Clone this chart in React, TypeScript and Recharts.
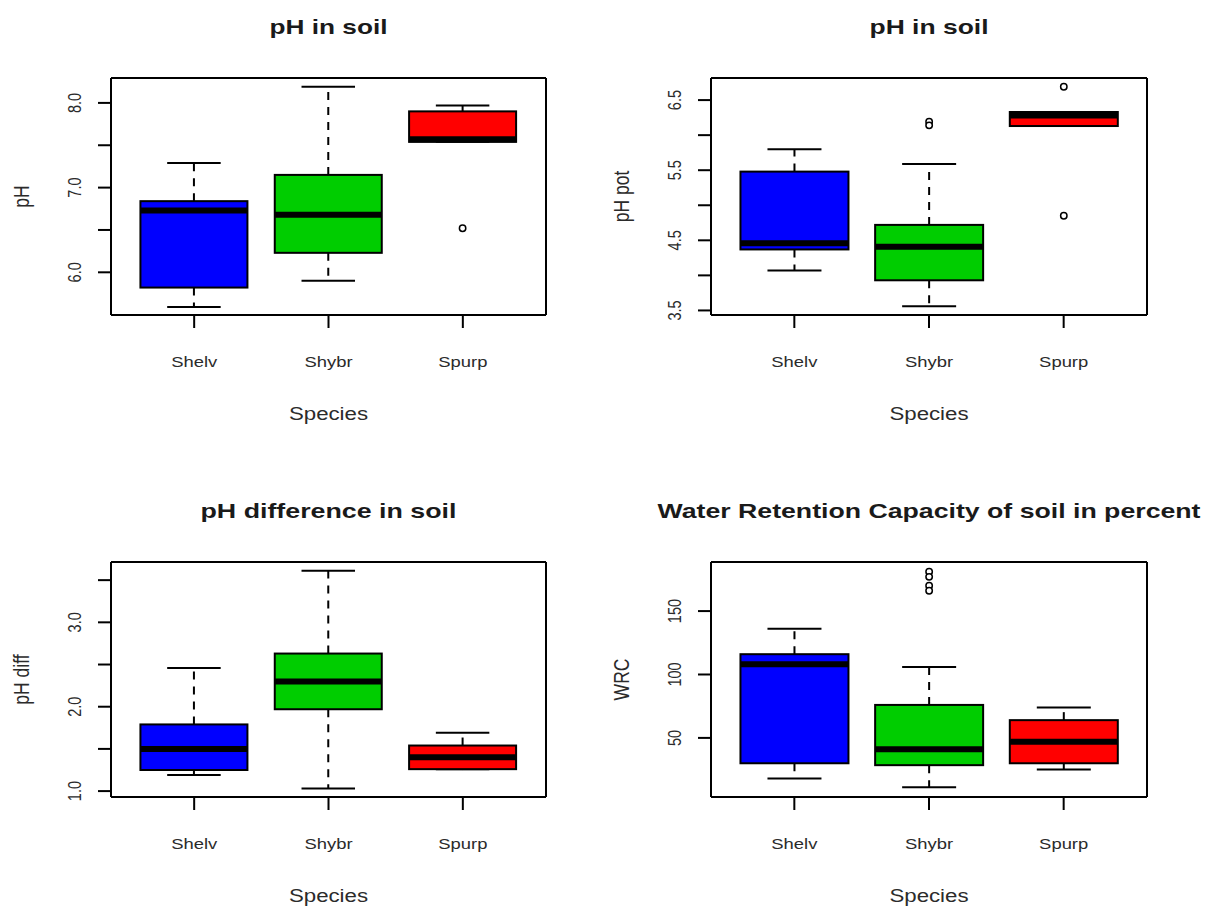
import { ComposedChart, Bar, XAxis, YAxis, Label } from 'recharts'

const FONT = '"Liberation Sans", Arial, sans-serif'
const INK = '#000000'
const TEXT = '#2b2b2b'
// the source bitmap was widened, so plain text gets the same sideways stretch
const SX = 1.27

const species = ['Shelv', 'Shybr', 'Spurp']
const boxColors = ['#0000FF', '#00CD00', '#FF0000']

// each row: [lower whisker, Q1, median, Q3, upper whisker]
const phStats = [
  [5.59, 5.82, 6.73, 6.84, 7.29],
  [5.9, 6.23, 6.68, 7.15, 8.19],
  [7.54, 7.54, 7.57, 7.9, 7.97],
]
const phOutliers = [[], [], [6.52]]
const phTicks = [6, 6.5, 7, 7.5, 8]
const phTickLabels = [6, 7, 8]

const phPotStats = [
  [4.07, 4.37, 4.46, 5.48, 5.8],
  [3.56, 3.93, 4.41, 4.72, 5.59],
  [6.13, 6.13, 6.28, 6.33, 6.33],
]
const phPotOutliers = [[], [6.19, 6.14], [6.69, 4.85]]
const phPotTicks = [3.5, 4, 4.5, 5, 5.5, 6, 6.5]
const phPotTickLabels = [3.5, 4.5, 5.5, 6.5]

const phDiffStats = [
  [1.19, 1.25, 1.5, 1.79, 2.46],
  [1.03, 1.97, 2.3, 2.63, 3.61],
  [1.26, 1.26, 1.4, 1.54, 1.69],
]
const phDiffOutliers = [[], [], []]
const phDiffTicks = [1, 1.5, 2, 2.5, 3, 3.5]
const phDiffTickLabels = [1, 2, 3]

const wrcStats = [
  [18, 30, 108, 116, 136],
  [11, 28.5, 41, 76, 106],
  [25, 30, 47, 64, 74],
]
const wrcOutliers = [[], [181, 177, 170, 166], []]
const wrcTicks = [50, 100, 150]
const wrcTickLabels = [50, 100, 150]

function BoxShape(props: any) {
  const { x, y, width, height, payload } = props
  const { lo, q1, med, q3, hi, out, color } = payload
  // map a value onto the pixel span the bar got from the y scale (lo..hi)
  const py = (v: number) => y + ((hi - v) / (hi - lo)) * height
  const cx = x + width / 2
  const cap = width / 4
  return (
    <g>
      <line x1={cx} x2={cx} y1={py(q3)} y2={py(hi)} stroke={INK} strokeWidth={2} strokeDasharray="8 7" />
      <line x1={cx} x2={cx} y1={py(q1)} y2={py(lo)} stroke={INK} strokeWidth={2} strokeDasharray="8 7" />
      <line x1={cx - cap} x2={cx + cap} y1={py(hi)} y2={py(hi)} stroke={INK} strokeWidth={2} />
      <line x1={cx - cap} x2={cx + cap} y1={py(lo)} y2={py(lo)} stroke={INK} strokeWidth={2} />
      <rect x={x} y={py(q3)} width={width} height={py(q1) - py(q3)} fill={color} stroke={INK} strokeWidth={2} />
      <line x1={x} x2={x + width} y1={py(med)} y2={py(med)} stroke={INK} strokeWidth={6} />
      {out.map((v: number, i: number) => (
        <circle key={i} cx={cx} cy={py(v)} r={3.2} fill="#fff" stroke={INK} strokeWidth={1.5} />
      ))}
    </g>
  )
}

function CategoryTick(props: any) {
  const { x, y, payload } = props
  return (
    <text
      transform={`translate(${x}, ${y + 39}) scale(${SX}, 1)`}
      textAnchor="middle"
      fontFamily={FONT}
      fontSize={14.5}
      fill={TEXT}
    >
      {payload.value}
    </text>
  )
}

function makeValueTick(labels: number[], digits: number) {
  return function ValueTick(props: any) {
    const { x, y, payload } = props
    if (!labels.includes(payload.value)) return <g />
    return (
      <text
        transform={`translate(${x - 17}, ${y}) scale(${SX}, 1) rotate(-90)`}
        textAnchor="middle"
        fontFamily={FONT}
        fontSize={14.5}
        fill={TEXT}
      >
        {payload.value.toFixed(digits)}
      </text>
    )
  }
}

interface PanelProps {
  left: number
  top: number
  height: number
  margin: { top: number; right: number; bottom: number; left: number }
  stats: number[][]
  outliers: number[][]
  domain: [number, number]
  ticks: number[]
  tickLabels: number[]
  digits: number
  title: string
  titleLength: number
  yTitle: string
}

function BoxPanel({ left, top, height, margin, stats, outliers, domain, ticks, tickLabels, digits, title, titleLength, yTitle }: PanelProps) {
  const rows = species.map((name, i) => {
    const [lo, q1, med, q3, hi] = stats[i]
    return { name, lo, q1, med, q3, hi, out: outliers[i], color: boxColors[i] }
  })
  const ValueTick = makeValueTick(tickLabels, digits)
  const line = { stroke: INK, strokeWidth: 2 }

  return (
    <div style={{ position: 'absolute', left, top }}>
      <ComposedChart width={607} height={height} data={rows} margin={margin} barCategoryGap="10%">
        <XAxis
          xAxisId="b"
          dataKey="name"
          interval={0}
          padding={{ left: 16, right: 16 }}
          height={60}
          tickSize={13}
          tickMargin={0}
          tick={<CategoryTick />}
          axisLine={line}
          tickLine={line}
        >
          <Label
            content={(p: any) => (
              <text
                transform={`translate(${p.viewBox.x + p.viewBox.width / 2}, ${p.viewBox.y + 105}) scale(${SX}, 1)`}
                textAnchor="middle"
                fontFamily={FONT}
                fontSize={17.5}
                fill={TEXT}
              >
                Species
              </text>
            )}
          />
        </XAxis>
        <XAxis
          xAxisId="t"
          dataKey="name"
          orientation="top"
          padding={{ left: 16, right: 16 }}
          height={1}
          tick={false}
          tickLine={false}
          axisLine={line}
        >
          <Label
            content={(p: any) => (
              <text
                x={p.viewBox.x + p.viewBox.width / 2}
                y={p.viewBox.y + p.viewBox.height - 44}
                textAnchor="middle"
                fontFamily={FONT}
                fontWeight="bold"
                fontSize={21}
                fill="#1a1a1a"
                textLength={titleLength}
                lengthAdjust="spacingAndGlyphs"
              >
                {title}
              </text>
            )}
          />
        </XAxis>
        <YAxis
          yAxisId="l"
          type="number"
          domain={domain}
          allowDataOverflow
          ticks={ticks}
          interval={0}
          width={60}
          tickSize={13}
          tickMargin={0}
          tick={<ValueTick />}
          axisLine={line}
          tickLine={line}
        >
          <Label
            content={(p: any) => (
              <text
                transform={`translate(${p.viewBox.x + p.viewBox.width - 82}, ${p.viewBox.y + p.viewBox.height / 2}) scale(${SX}, 1) rotate(-90)`}
                textAnchor="middle"
                fontFamily={FONT}
                fontSize={17.5}
                fill={TEXT}
              >
                {yTitle}
              </text>
            )}
          />
        </YAxis>
        <YAxis
          yAxisId="r"
          orientation="right"
          type="number"
          domain={domain}
          allowDataOverflow
          width={1}
          tick={false}
          tickLine={false}
          axisLine={line}
        />
        <Bar
          xAxisId="b"
          yAxisId="l"
          dataKey={(d: any) => [d.lo, d.hi]}
          shape={BoxShape}
          isAnimationActive={false}
        />
        <Bar xAxisId="t" yAxisId="r" dataKey={() => null} isAnimationActive={false} legendType="none" />
      </ComposedChart>
    </div>
  )
}

export default function App() {
  return (
    <div style={{ position: 'absolute', left: 0, top: 0, width: 1214, height: 909, background: '#fff' }}>
      <BoxPanel
        left={0}
        top={0}
        height={455}
        margin={{ top: 77, right: 60, bottom: 80, left: 51 }}
        stats={phStats}
        outliers={phOutliers}
        domain={[5.496, 8.294]}
        ticks={phTicks}
        tickLabels={phTickLabels}
        digits={1}
        title="pH in soil"
        titleLength={118}
        yTitle="pH"
      />
      <BoxPanel
        left={607}
        top={0}
        height={455}
        margin={{ top: 77, right: 66, bottom: 80, left: 44 }}
        stats={phPotStats}
        outliers={phPotOutliers}
        domain={[3.435, 6.815]}
        ticks={phPotTicks}
        tickLabels={phPotTickLabels}
        digits={1}
        title="pH in soil"
        titleLength={119}
        yTitle="pH pot"
      />
      <BoxPanel
        left={0}
        top={455}
        height={454}
        margin={{ top: 106, right: 60, bottom: 52, left: 51 }}
        stats={phDiffStats}
        outliers={phDiffOutliers}
        domain={[0.93, 3.715]}
        ticks={phDiffTicks}
        tickLabels={phDiffTickLabels}
        digits={1}
        title="pH difference in soil"
        titleLength={256}
        yTitle="pH diff"
      />
      <BoxPanel
        left={607}
        top={455}
        height={454}
        margin={{ top: 106, right: 66, bottom: 52, left: 44 }}
        stats={wrcStats}
        outliers={wrcOutliers}
        domain={[3.4, 188.7]}
        ticks={wrcTicks}
        tickLabels={wrcTickLabels}
        digits={0}
        title="Water Retention Capacity of soil in percent"
        titleLength={543}
        yTitle="WRC"
      />
    </div>
  )
}
